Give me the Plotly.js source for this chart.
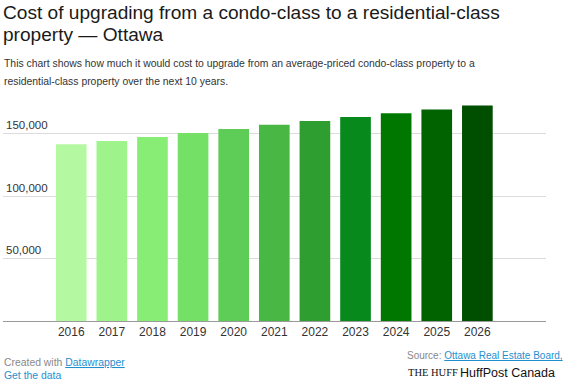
<!DOCTYPE html>
<html>
<head>
<meta charset="utf-8">
<script src="https://cdn.plot.ly/plotly-3.0.1.min.js"></script>
<style>
  html, body { margin: 0; padding: 0; background: #fff; }
  #chart { width: 570px; height: 380px; }
</style>
</head>
<body>
<div id="chart"></div>
<script>
// Data
const years = ['2016','2017','2018','2019','2020','2021','2022','2023','2024','2025','2026'];
const costs = [141400, 144000, 147200, 150400, 153600, 157000, 160000, 163200, 166200, 169300, 172500];
const barColors = ['#b4f9a2','#9ef48a','#88ed74','#74e066','#5ecd57','#48b743','#2e9e31','#08891c','#007800','#006300','#004e00'];
const yTickVals = [50000, 100000, 150000];
const yTickText = ['50,000', '100,000', '150,000'];

const W = 570, H = 380;
const M = {l: 3, r: 24, t: 100, b: 59};
const plotH = H - M.t - M.b;
const plotW = W - M.l - M.r;
function py(p) { return (H - M.b - p) / plotH; }
function px(p) { return (p - M.l) / plotW; }

const FONT = 'Liberation Sans, Arial, sans-serif';

const trace = {
  type: 'bar',
  x: years,
  y: costs,
  marker: {color: barColors, line: {width: 0}},
  hoverinfo: 'x+y'
};

const annotations = [
  {text: 'Cost of upgrading from a condo-class to a residential-class', x: px(2), y: py(12), xanchor: 'left', yanchor: 'middle',
   font: {family: FONT, size: 19.1, color: '#1a1a1a'}},
  {text: 'property — Ottawa', x: px(2), y: py(35), xanchor: 'left', yanchor: 'middle',
   font: {family: FONT, size: 19.1, color: '#1a1a1a'}},
  {text: 'This chart shows how much it would cost to upgrade from an average-priced condo-class property to a', x: px(3), y: py(64), xanchor: 'left', yanchor: 'middle',
   font: {family: FONT, size: 10.4, color: '#333'}},
  {text: 'residential-class property over the next 10 years.', x: px(3), y: py(81), xanchor: 'left', yanchor: 'middle',
   font: {family: FONT, size: 10.4, color: '#333'}},
  {text: '<span style="color:#888">Created with </span><span style="color:#1f8fce"><u>Datawrapper</u></span>', x: px(3), y: py(362), xanchor: 'left', yanchor: 'middle',
   font: {family: FONT, size: 10.4}},
  {text: '<u>Get the data</u>', x: px(3), y: py(375), xanchor: 'left', yanchor: 'middle',
   font: {family: FONT, size: 10.4, color: '#1f8fce'}},
  {text: '<span style="color:#888">Source: </span><span style="color:#1f8fce"><u>Ottawa Real Estate Board,</u></span>', x: px(406), y: py(355), xanchor: 'left', yanchor: 'middle',
   font: {family: FONT, size: 10}},
  {text: 'THE HUFF', x: px(407), y: py(372), xanchor: 'left', yanchor: 'middle',
   font: {family: 'Liberation Serif, Times New Roman, serif', size: 10.5, color: '#111'}},
  {text: 'HuffPost Canada', x: px(459), y: py(373), xanchor: 'left', yanchor: 'middle',
   font: {family: FONT, size: 12.5, color: '#111'}}
];
annotations.forEach(a => { a.xref = 'paper'; a.yref = 'paper'; a.showarrow = false; a.borderpad = 0; });

const layout = {
  width: W, height: H,
  margin: M,
  paper_bgcolor: '#fff', plot_bgcolor: '#fff',
  showlegend: false,
  bargap: 0.245,
  font: {family: FONT, color: '#333'},
  xaxis: {
    type: 'category',
    range: [-1.68, 11.69],
    showgrid: false,
    showline: true, linecolor: '#9a9a9a', linewidth: 1,
    ticks: '', tickfont: {family: FONT, size: 12, color: '#333'},
    fixedrange: true
  },
  yaxis: {
    range: [0, 176800],
    tickvals: yTickVals, ticktext: yTickText,
    ticklabelposition: 'inside top',
    showgrid: true, gridcolor: '#dcdcdc', gridwidth: 1,
    zeroline: false, showline: false, ticks: '',
    tickfont: {family: FONT, size: 11.5, color: '#333'},
    fixedrange: true
  },
  annotations: annotations
};

Plotly.newPlot('chart', [trace], layout, {displayModeBar: false, staticPlot: true});
</script>
</body>
</html>
